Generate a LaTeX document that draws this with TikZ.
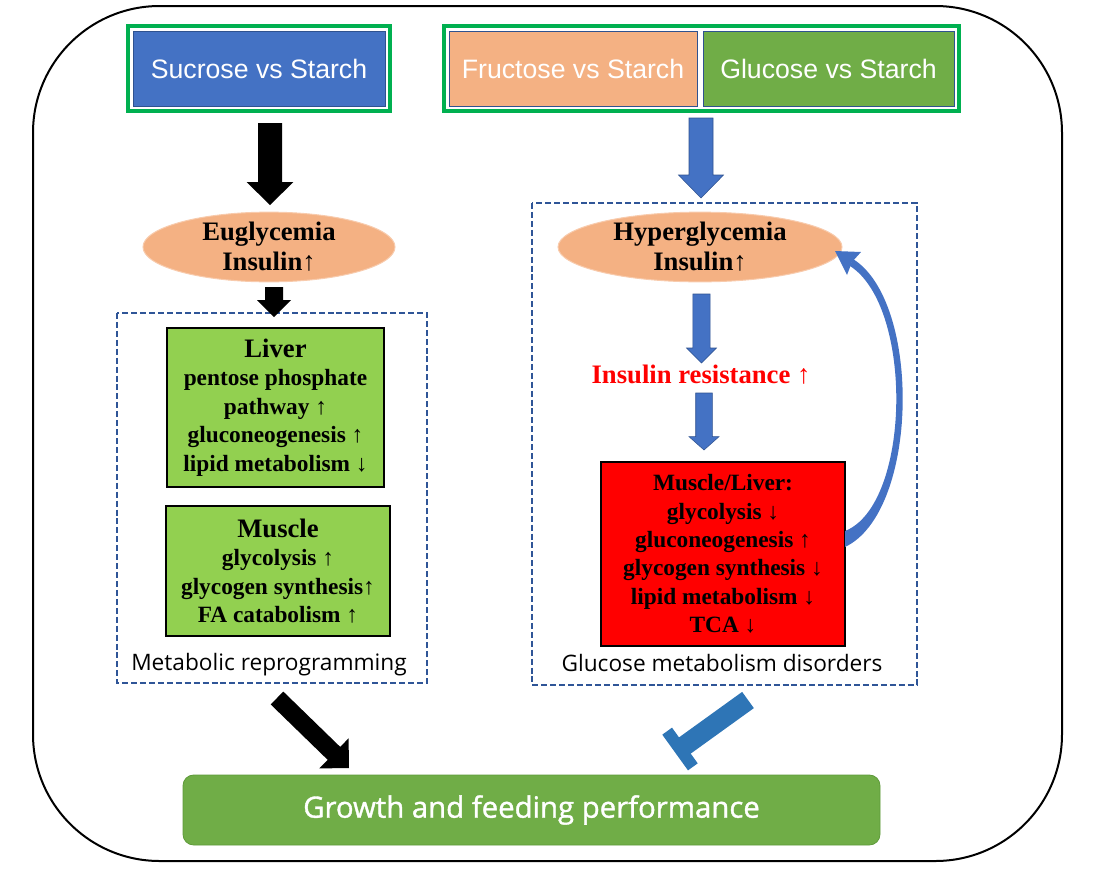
\documentclass[tikz,border=0pt]{standalone}
\usepackage{fontspec}
\setmainfont{Liberation Serif}
\newfontfamily\arialf{Liberation Sans}
\newfontfamily\osans{Open Sans}
\newfontfamily\osansb[FakeBold=1.2]{Open Sans}
\usetikzlibrary{calc,shapes.geometric}
\definecolor{cblue}{HTML}{4472C4}
\definecolor{cblueD}{HTML}{2F528F}
\definecolor{cgf}{HTML}{00B050}
\definecolor{cpeach}{HTML}{F4B183}
\definecolor{cpeachL}{HTML}{F8CBAD}
\definecolor{cgreen}{HTML}{70AD47}
\definecolor{cgreenD}{HTML}{5E9A3A}
\definecolor{clight}{HTML}{92D050}
\definecolor{cdash}{HTML}{2F5597}
\definecolor{cbar}{HTML}{2E75B6}
\definecolor{cred}{HTML}{FF0000}
% block arrow: #1 tail coord, #2 tip coord, #3 half shaft, #4 half head, #5 head length, #6 style
\newcommand\blkarr[6]{%
  \coordinate (#1-b) at ($(#2)!#5!(#1)$);
  \filldraw[#6] ($(#1)!#3!90:(#2)$) -- ($(#1-b)!#3!90:(#2)$) -- ($(#1-b)!#4!90:(#2)$) -- (#2)
    -- ($(#1-b)!#4!-90:(#2)$) -- ($(#1-b)!#3!-90:(#2)$) -- ($(#1)!#3!-90:(#2)$) -- cycle;}
\tikzset{
  frm/.style={draw=cgf, line width=3pt, inner sep=0pt, minimum height=63.75pt},
  tbox/.style={draw=cblueD, line width=0.5pt, inner sep=0pt, minimum height=56.25pt,
    text=white, font=\arialf\fontsize{20}{24}\selectfont},
  ell/.style={ellipse, draw=cpeachL, fill=cpeach, line width=0.75pt, inner sep=0pt,
    align=center, font=\bfseries\fontsize{20}{22.5}\selectfont},
  gbox/.style={draw=black, line width=1.2pt, fill=clight, inner sep=0pt, align=center,
    font=\bfseries\fontsize{17.5}{21.4}\selectfont},
  rbox/.style={draw=black, line width=1.5pt, fill=cred, inner sep=0pt, align=center,
    font=\bfseries\fontsize{17.5}{21.3}\selectfont},
  dashbox/.style={draw=cdash, line width=1.2pt, dash pattern=on 4.5pt off 2.2pt},
  caplbl/.style={font=\osans\fontsize{17}{20}\selectfont, inner sep=0pt},
  blackarr/.style={fill=black, draw=none},
  bluearr/.style={fill=cblue, draw=cblueD, line width=0.4pt}
}
\begin{document}
\begin{tikzpicture}[x=0.75pt,y=-0.75pt]
\useasboundingbox (0,0) rectangle (1093,872);
% outer frame
\draw[line width=1.5pt, rounded corners=95pt] (33,6) rectangle (1062,861);

% top boxes
\node[frm, minimum width=196.5pt] (sucfrm) at (259,68.5) {};
\node[tbox, fill=cblue, minimum width=189pt] (suc) at (259,68.5) {Sucrose vs Starch};
\node[frm, minimum width=386.25pt] (rfrm) at (701.5,68.5) {};
\node[tbox, fill=cpeach, minimum width=186pt] (fru) at (573,68.5) {Fructose vs Starch};
\node[tbox, fill=cgreen, minimum width=188.25pt] (glu) at (828.5,68.5) {Glucose vs Starch};

% dashed groups
\draw[dashbox] (117,313) rectangle (427,683);
\draw[dashbox] (532,203) rectangle (917,685);

% ellipses
\node[ell, minimum width=189pt, minimum height=50.25pt] (eug) at (269,247) {Euglycemia\\Insulin↑};
\node[ell, minimum width=213pt, minimum height=51pt] (hyp) at (700,247) {Hyperglycemia\\Insulin↑};

% left boxes
\node[gbox, minimum width=162.75pt, minimum height=119.25pt] (liver) at (275.5,407.5)
  {{\fontsize{20}{21.4}\selectfont Liver}\\pentose phosphate\\pathway ↑\\gluconeogenesis ↑\\lipid metabolism ↓};
\node[gbox, minimum width=168pt, minimum height=97.5pt] (muscle) at (278,571)
  {{\fontsize{20}{21.4}\selectfont Muscle}\\glycolysis ↑\\glycogen synthesis↑\\FA catabolism ↑};
\node[caplbl] (metlbl) at (269,665) {Metabolic reprogramming};

% right side
\node[inner sep=0pt, text=cred, font=\bfseries\fontsize{20}{24}\selectfont] (ir) at (701,375) {Insulin resistance ↑};
\node[rbox, minimum width=183pt, minimum height=138pt] (ml) at (723,554)
  {Muscle/Liver:\\glycolysis ↓\\gluconeogenesis ↑\\glycogen synthesis ↓\\lipid metabolism ↓\\TCA ↓};
\node[caplbl] (glulbl) at (722,663) {Glucose metabolism disorders};

% bottom box
\node[draw=cgreenD, line width=0.6pt, fill=cgreen, rounded corners=8pt, inner sep=0pt,
  minimum width=522.75pt, minimum height=52.5pt, text=white,
  font=\osansb\fontsize{22}{26}\selectfont] (growth) at (531.5,810) {Growth and feeding performance};

% arrow endpoints
\coordinate (a1s) at (270,123); \coordinate (a1e) at (270,205);
\coordinate (a2s) at (701,118); \coordinate (a2e) at (701,198);
\coordinate (a3s) at (274,287); \coordinate (a3e) at (274,317);
\coordinate (a4s) at (701.5,294); \coordinate (a4e) at (701.5,363);
\coordinate (a5s) at (704,393); \coordinate (a5e) at (704,450);
\coordinate (a6s) at (277,698); \coordinate (a6e) at (349,768);
\coordinate (tbs) at (748,700); \coordinate (tbe) at (680,749);

\blkarr{a1s}{a1e}{9pt}{17.6pt}{17.25pt}{blackarr}
\blkarr{a2s}{a2e}{9pt}{16.9pt}{17.25pt}{bluearr}
\blkarr{a3s}{a3e}{6.75pt}{12.75pt}{12.75pt}{blackarr}
\blkarr{a4s}{a4e}{6.4pt}{11.25pt}{11.25pt}{bluearr}
\blkarr{a5s}{a5e}{6.2pt}{11.25pt}{10pt}{bluearr}
\blkarr{a6s}{a6e}{6.75pt}{15.75pt}{15.75pt}{blackarr}

% inhibition bar
\draw[cbar, line width=15pt] (tbs) -- (tbe);
\draw[cbar, line width=9pt] ($(tbe)!16.5pt!90:(tbs)$) -- ($(tbe)!16.5pt!-90:(tbs)$);

% feedback curved arrow (tapered)
\fill[cblue] (845,547) .. controls (919,512) and (922,302) .. (853,259)
  -- (850,266) .. controls (914,307) and (911,505) .. (845,531) -- cycle;
\fill[cblue] (835,251) -- (861,252) -- (852,262) -- (847,275) -- cycle;
\end{tikzpicture}
\end{document}
